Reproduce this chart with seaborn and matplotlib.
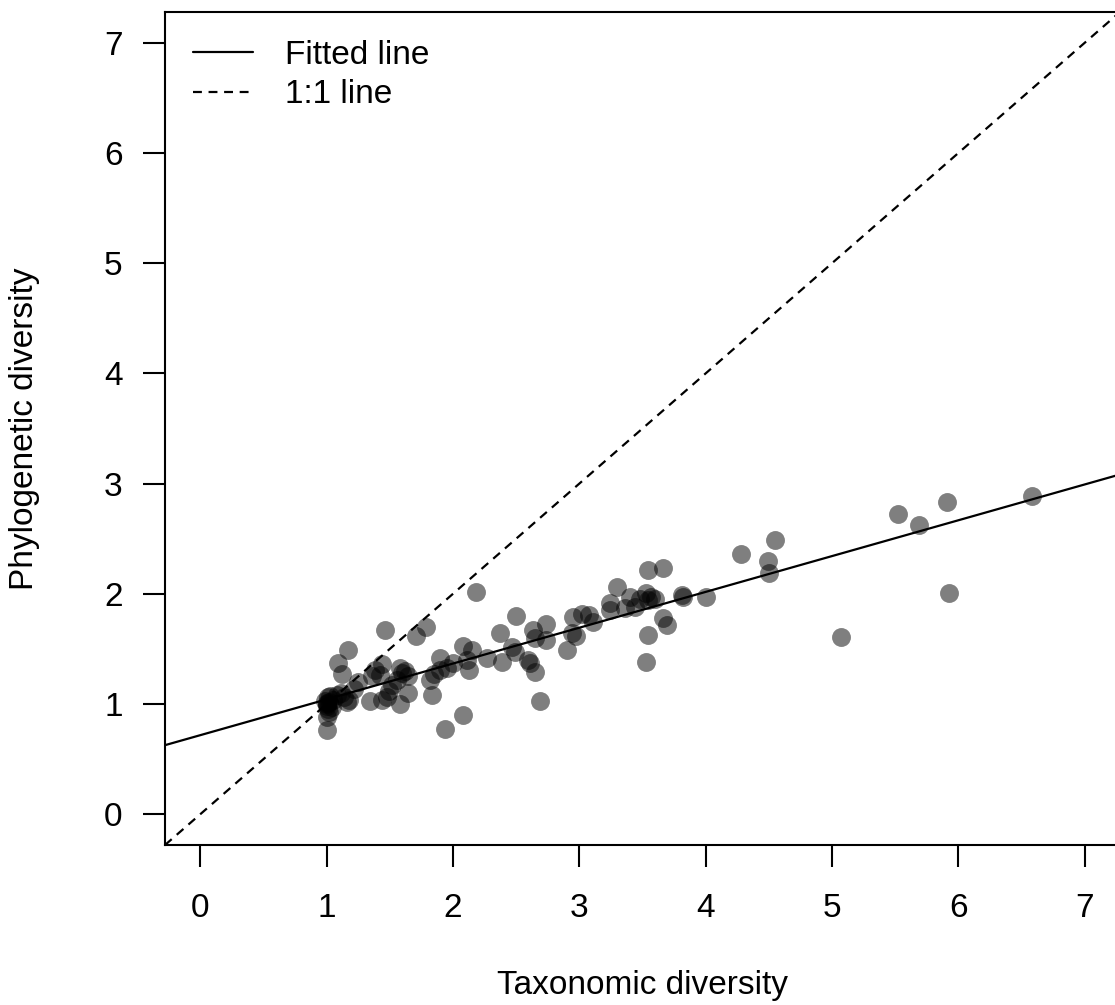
import numpy as np
import pandas as pd
import matplotlib
matplotlib.use("Agg")
import matplotlib.pyplot as plt
import seaborn as sns

# ---- data ----
taxonomic = [
    1.00, 1.00, 1.02, 1.04, 1.00, 0.99, 1.01, 1.02, 1.05, 1.00, 1.08, 1.11, 1.09, 1.12, 1.17, 1.16, 1.14, 1.18, 1.25, 1.22,
    1.00, 1.01, 1.03,
    1.34, 1.36, 1.38, 1.42, 1.44, 1.44, 1.48, 1.49, 1.46, 1.52, 1.56, 1.58, 1.60, 1.62, 1.64, 1.58, 1.64, 1.71, 1.79, 1.82,
    1.83, 1.85, 1.90, 1.90, 1.95, 1.94, 2.00, 2.08, 2.08, 2.11, 2.13, 2.15, 2.18,
    2.27, 2.37, 2.39, 2.47, 2.49, 2.50, 2.59, 2.61, 2.65, 2.63, 2.65, 2.74, 2.74, 2.69, 2.90, 2.94, 2.97, 2.95, 3.02, 3.08,
    3.11, 3.24, 3.24, 3.30, 3.36, 3.40, 3.44, 3.48,
    3.53, 3.54, 3.57, 3.60, 3.54, 3.66, 3.66, 3.69, 3.54, 3.53, 3.81, 3.82, 4.00, 4.28, 4.49, 4.50, 4.55,
    5.07, 5.52, 5.69, 5.91, 5.93, 6.58,
]
phylogenetic = [
    0.76, 0.88, 0.93, 0.97, 1.00, 1.03, 1.06, 1.02, 1.04, 0.98, 1.08, 1.10, 1.37, 1.27, 1.49, 1.02, 1.06, 1.04, 1.20, 1.14,
    1.01, 0.95, 1.07,
    1.03, 1.25, 1.31, 1.26, 1.36, 1.04, 1.06, 1.12, 1.67, 1.17, 1.22, 1.33, 1.28, 1.30, 1.25, 1.00, 1.10, 1.62, 1.70, 1.22,
    1.08, 1.27, 1.42, 1.31, 1.33, 0.77, 1.37, 1.53, 0.90, 1.40, 1.31, 1.49, 2.02,
    1.42, 1.64, 1.38, 1.52, 1.47, 1.80, 1.40, 1.37, 1.29, 1.67, 1.60, 1.73, 1.58, 1.03, 1.49, 1.64, 1.62, 1.79, 1.82, 1.81,
    1.74, 1.85, 1.92, 2.06, 1.87, 1.97, 1.88, 1.95,
    2.01, 1.94, 1.97, 1.95, 2.22, 2.23, 1.78, 1.72, 1.63, 1.38, 1.99, 1.97, 1.97, 2.36, 2.30, 2.19, 2.49,
    1.61, 2.72, 2.62, 2.83, 2.01, 2.89,
]
fit_intercept = 0.717
fit_slope = 0.325
axis_limits = [0, 7]
tick_values = [0, 1, 2, 3, 4, 5, 6, 7]
x_label = "Taxonomic diversity"
y_label = "Phylogenetic diversity"
legend_labels = ["Fitted line", "1:1 line"]

df = pd.DataFrame({"tax": taxonomic, "phy": phylogenetic})

# ---- figure ----
sns.set_style("white")
plt.rcParams["font.family"] = ["Liberation Sans", "DejaVu Sans"]
plt.rcParams["text.color"] = "black"
plt.rcParams["axes.labelcolor"] = "black"
FS = 24
W, H = 1115, 1005
fig = plt.figure(figsize=(W / 100, H / 100), dpi=100)
L, R, T, B = 165, 1120, 12, 845
ax = fig.add_axes([L / W, 1 - B / H, (R - L) / W, (B - T) / H])

ext = 0.04 * (axis_limits[1] - axis_limits[0])
lo, hi = axis_limits[0] - ext, axis_limits[1] + ext
ax.set_xlim(lo, hi)
ax.set_ylim(lo, hi)

sns.scatterplot(data=df, x="tax", y="phy", ax=ax, color="black", alpha=0.5,
                s=185, linewidth=0, legend=False, zorder=2)

xx = np.array([lo, hi])
h1, = ax.plot(xx, fit_intercept + fit_slope * xx, color="black", lw=1.6, zorder=3)
h2, = ax.plot(xx, xx, color="black", lw=1.6, linestyle=(0, (4, 3)), zorder=3)

ax.set_xticks(tick_values)
ax.set_yticks(tick_values)
ax.tick_params(axis="both", which="major", length=15.5, width=1.5, color="black",
               labelsize=FS, labelcolor="black", direction="out",
               bottom=True, left=True, top=False, right=False)
ax.tick_params(axis="x", pad=19)
ax.tick_params(axis="y", pad=15)
for s in ax.spines.values():
    s.set_visible(True)
    s.set_color("black")
    s.set_linewidth(1.5)

ax.set_xlabel(x_label, fontsize=FS, color="black")
ax.set_ylabel(y_label, fontsize=FS, color="black")
ax.xaxis.label.set_va("center")
ax.yaxis.label.set_va("center")
ax.xaxis.set_label_coords(0.5, (B - 985) / (B - T))
ax.yaxis.set_label_coords((25 - L) / (R - L), 0.5)

leg = ax.legend([h1, h2], legend_labels, loc="upper left", frameon=False, fontsize=FS,
                bbox_to_anchor=((193 - L) / (R - L), (B - 40) / (B - T)),
                borderpad=0, borderaxespad=0, handlelength=1.8, handletextpad=0.95,
                labelspacing=0.25)
for t in leg.get_texts():
    t.set_color("black")

fig.savefig("out.png", dpi=100)
